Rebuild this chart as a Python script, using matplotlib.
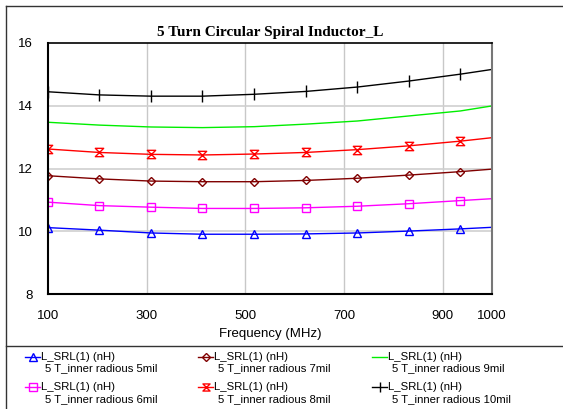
import matplotlib
matplotlib.use("Agg")
import matplotlib.pyplot as plt
from matplotlib.lines import Line2D
from matplotlib.path import Path

plt.rcParams["font.family"] = ["Liberation Sans", "DejaVu Sans"]

# frequency points (MHz); markers sit on all but the last one
FREQ = [100, 204, 309, 413, 518, 622, 727, 831, 936, 1000]

L_5MIL = [10.12, 10.04, 9.95, 9.91, 9.91, 9.92, 9.95, 10.01, 10.08, 10.13]
L_6MIL = [10.93, 10.82, 10.77, 10.73, 10.73, 10.75, 10.80, 10.88, 10.98, 11.04]
L_7MIL = [11.77, 11.67, 11.60, 11.58, 11.58, 11.62, 11.69, 11.79, 11.90, 11.98]
L_8MIL = [12.62, 12.51, 12.45, 12.43, 12.46, 12.51, 12.60, 12.72, 12.87, 12.98]
L_9MIL = [13.47, 13.38, 13.32, 13.30, 13.33, 13.41, 13.51, 13.67, 13.83, 13.99]
L_10MIL = [14.44, 14.34, 14.30, 14.30, 14.36, 14.45, 14.59, 14.78, 15.00, 15.15]

XTICKS = [100, 300, 500, 700, 900, 1000]
YTICKS = [8, 10, 12, 14, 16]
SERIES_NAME = "L_SRL(1) (nH)"
LABELS = ["5 T_inner radious 5mil", "5 T_inner radious 6mil", "5 T_inner radious 7mil",
          "5 T_inner radious 8mil", "5 T_inner radious 9mil", "5 T_inner radious 10mil"]

hourglass = Path([(-1, 1), (1, 1), (-1, -1), (1, -1), (-1, 1)],
                 [Path.MOVETO, Path.LINETO, Path.LINETO, Path.LINETO, Path.CLOSEPOLY])

STYLES = [
    dict(color="#0000ff", marker="^", ms=6.0),
    dict(color="#ff00ff", marker="s", ms=6.0),
    dict(color="#800000", marker="D", ms=4.5),
    dict(color="#ff0000", marker=hourglass, ms=6.0),
    dict(color="#00ee00", marker=None, ms=0),
    dict(color="#000000", marker="|", ms=8.0),
]
VALUES = [L_5MIL, L_6MIL, L_7MIL, L_8MIL, L_9MIL, L_10MIL]

W, H = 563, 409
fig = plt.figure(figsize=(W / 100, H / 100), dpi=100)
ax = fig.add_axes([48 / W, (H - 294.3) / H, 444 / W, 251.6 / H])

for vals, st in zip(VALUES, STYLES):
    ax.plot(FREQ, vals, color=st["color"], lw=1.0, marker=st["marker"],
            ms=st["ms"], mfc="none", mew=1.0, markevery=slice(0, 9))

ax.set_xlim(100, 1000)
ax.set_ylim(8, 16)
ax.set_xticks(XTICKS)
ax.set_yticks(YTICKS)
ax.tick_params(length=0, labelsize=9.5)
ax.tick_params(axis="x", pad=11)
ax.tick_params(axis="y", pad=11)
for v in [300, 500, 700, 900]:
    ax.axvline(v, color="#c8c8c8", lw=1.0, zorder=0)
for v in [10, 12, 14]:
    ax.axhline(v, color="#cfcfcf", lw=1.2, zorder=0)
for s in ["left", "bottom"]:
    ax.spines[s].set_linewidth(1.5)
ax.spines["top"].set_linewidth(1.2)
ax.spines["right"].set_linewidth(1.5)
ax.spines["right"].set_color("#777777")

ax.set_xlabel("Frequency (MHz)", fontsize=9.5)
ax.xaxis.set_label_coords(0.5, -0.158)
ax.xaxis.label.set_va("center")
ax.set_title("5 Turn Circular Spiral Inductor_L", family="Liberation Serif",
             fontweight="bold", fontsize=11, pad=5)


def px_line(x0, y0, x1, y1):
    fig.add_artist(Line2D([x0 / W, x1 / W], [1 - y0 / H, 1 - y1 / H],
                          transform=fig.transFigure, color="#333333", lw=1.0))


# outer frame and legend separator
px_line(6, 6, 563, 6)
px_line(6, 6, 6, 409)
px_line(6, 346, 563, 346)

# legend: 3 columns x 2 rows, handle beside the first text line
col_x = [25, 198, 372]
row_y = [356.5, 387]
order = [(0, 0), (0, 1), (1, 0), (1, 1), (2, 0), (2, 1)]
for (c, r), st, lab in zip(order, STYLES, LABELS):
    x0, y0 = col_x[c], row_y[r]
    fig.add_artist(Line2D([x0 / W, (x0 + 15) / W], [1 - y0 / H] * 2,
                          transform=fig.transFigure, color=st["color"], lw=1.0))
    if st["marker"] is not None:
        fig.add_artist(Line2D([(x0 + 7.5) / W], [1 - y0 / H], transform=fig.transFigure,
                              color=st["color"], marker=st["marker"],
                              ms=st["ms"] * 0.85, mfc="none", mew=1.0, lw=0))
    fig.text((x0 + 16) / W, 1 - y0 / H, SERIES_NAME, fontsize=8.2, va="center")
    fig.text((x0 + 20) / W, 1 - (y0 + 12) / H, lab, fontsize=8.2, va="center")

fig.savefig("out.png", dpi=100)
